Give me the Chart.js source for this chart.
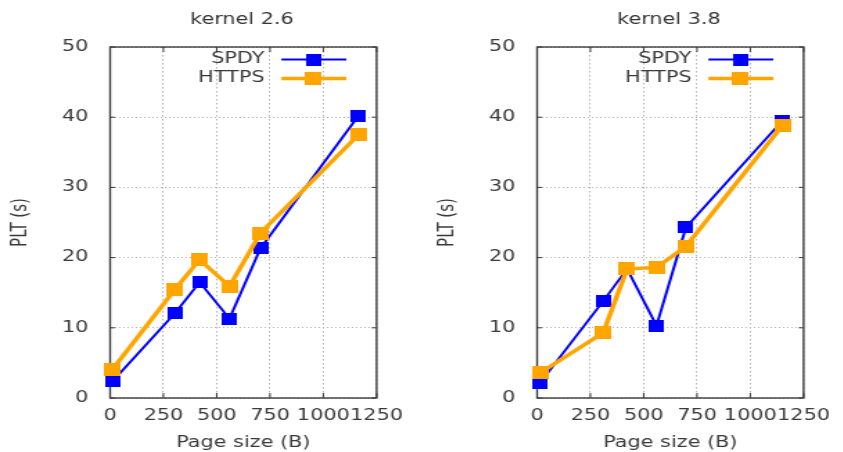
<!DOCTYPE html>
<html>
<head>
<meta charset="utf-8">
<script src="https://cdn.jsdelivr.net/npm/chart.js@4.4.0/dist/chart.umd.min.js"></script>
<style>
  html, body { margin: 0; padding: 0; background: #fff; overflow: hidden; }
  body { width: 843px; height: 452px; position: relative; }
  .panel { position: absolute; top: 0; width: 300px; height: 452px; transform-origin: 0 0; transform: scaleX(1.385); }
  #p1 { left: 0px; }
  #p2 { left: 427px; }
</style>
</head>
<body>
<div class="panel" id="p1"><canvas id="c1" width="300" height="452"></canvas></div>
<div class="panel" id="p2"><canvas id="c2" width="300" height="452"></canvas></div>
<script>
// ---- data ----
const seriesNames = ['SPDY', 'HTTPS'];
const panelTitles = ['kernel 2.6', 'kernel 3.8'];
const xTicks = [0, 250, 500, 750, 1000, 1250];
const yTicks = [0, 10, 20, 30, 40, 50];

const pageSizeLeft = [12, 305, 420, 560, 705, 1165];
const spdyLeft     = [2.4, 12.1, 16.5, 11.3, 21.3, 40.2];
const httpsLeft    = [4.1, 15.5, 19.7, 15.9, 23.5, 37.5];

const pageSizeRight = [15, 310, 422, 560, 698, 1150];
const spdyRight     = [2.2, 13.8, 18.4, 10.3, 24.3, 39.5];
const httpsRight    = [3.6, 9.3, 18.4, 18.6, 21.6, 38.8];

// ---- styling ----
const BLUE = '#0000ff';
const ORANGE = '#ffa500';
const TEXT = '#3a3a3a';
const FRAME = '#3a3a3a';

Chart.defaults.font.family = '"DejaVu Sans", Verdana, sans-serif';
Chart.defaults.font.size = 15;
Chart.defaults.color = TEXT;

function makeMarker(color, w, h) {
  const c = document.createElement('canvas');
  c.width = w; c.height = h;
  const g = c.getContext('2d');
  g.fillStyle = color;
  g.fillRect(0, 0, w, h);
  return c;
}
const markerSpdy = makeMarker(BLUE, 11, 12);
const markerHttps = makeMarker(ORANGE, 12, 13);

const framePlugin = {
  id: 'frame',
  beforeDatasetsDraw(chart) {
    const { ctx, chartArea: a, scales } = chart;
    ctx.save();
    ctx.strokeStyle = FRAME;
    ctx.lineWidth = 1.4;
    ctx.strokeRect(a.left, a.top, a.right - a.left, a.bottom - a.top);
    // inward tick marks (mirrored)
    ctx.lineWidth = 1;
    scales.x.ticks.forEach(t => {
      const px = scales.x.getPixelForValue(t.value);
      ctx.beginPath();
      ctx.moveTo(px, a.bottom); ctx.lineTo(px, a.bottom - 5);
      ctx.moveTo(px, a.top); ctx.lineTo(px, a.top + 5);
      ctx.stroke();
    });
    scales.y.ticks.forEach(t => {
      const py = scales.y.getPixelForValue(t.value);
      ctx.beginPath();
      ctx.moveTo(a.left, py); ctx.lineTo(a.left + 3.6, py);
      ctx.moveTo(a.right, py); ctx.lineTo(a.right - 3.6, py);
      ctx.stroke();
    });
    ctx.restore();
  }
};

const titleLegendPlugin = {
  id: 'titleLegend',
  afterDraw(chart) {
    const { ctx, chartArea: a } = chart;
    const opts = chart.options.plugins.titleLegend;
    ctx.save();
    ctx.font = '15px "DejaVu Sans", Verdana, sans-serif';
    ctx.fillStyle = '#333';
    ctx.textAlign = 'center';
    ctx.textBaseline = 'middle';
    ctx.fillText(opts.title, (a.left + a.right) / 2 - 1, 20);
    // legend
    const rows = [59.5, 78.5];
    chart.data.datasets.forEach((ds, i) => {
      const y = rows[i];
      ctx.fillStyle = TEXT;
      ctx.textAlign = 'right';
      ctx.fillText(ds.label, a.right - 80.9, y);
      ctx.strokeStyle = ds.borderColor;
      ctx.lineWidth = ds.borderWidth;
      ctx.beginPath();
      ctx.moveTo(a.right - 68.8, y);
      ctx.lineTo(a.right - 21.9, y);
      ctx.stroke();
      const m = ds.pointStyle;
      ctx.drawImage(m, a.right - 45.5 - m.width / 2, y - m.height / 2);
    });
    ctx.restore();
  }
};

function pts(xs, ys) { return xs.map((x, i) => ({ x: x, y: ys[i] })); }

function makeChart(id, title, xs, spdy, https) {
  return new Chart(document.getElementById(id), {
    type: 'line',
    data: {
      datasets: [
        { label: seriesNames[0], data: pts(xs, spdy), borderColor: BLUE, backgroundColor: BLUE,
          borderWidth: 2, pointStyle: markerSpdy, pointRadius: 6, tension: 0, fill: false, clip: false, order: 1 },
        { label: seriesNames[1], data: pts(xs, https), borderColor: ORANGE, backgroundColor: ORANGE,
          borderWidth: 3.5, pointStyle: markerHttps, pointRadius: 6, tension: 0, fill: false, clip: false, order: 0 }
      ]
    },
    options: {
      responsive: false,
      maintainAspectRatio: false,
      animation: false,
      events: [],
      devicePixelRatio: 1,
      layout: { padding: { top: 47, right: 20.5, left: 0, bottom: 0 } },
      plugins: {
        legend: { display: false },
        title: { display: false },
        tooltip: { enabled: false },
        titleLegend: { title: title }
      },
      scales: {
        x: {
          type: 'linear', min: 0, max: 1250,
          afterBuildTicks: s => { s.ticks = xTicks.map(v => ({ value: v })); },
          afterFit: s => { s.height = 54; },
          ticks: { autoSkip: false, maxRotation: 0, minRotation: 0, padding: 9, color: TEXT,
                   callback: v => String(v) },
          grid: { color: '#b4b4b4', lineWidth: 1, drawTicks: false, borderDash: [1.5, 2.5] },
          border: { display: false, dash: [1.5, 2.5] },
          title: { display: true, text: 'Page size (B)', color: TEXT, padding: { top: 1, bottom: 0 } }
        },
        y: {
          type: 'linear', min: 0, max: 50,
          afterBuildTicks: s => { s.ticks = yTicks.map(v => ({ value: v })); },
          afterFit: s => { s.width = 79.5; },
          ticks: { padding: 15.6, color: TEXT, callback: v => String(v) },
          grid: { color: '#b4b4b4', lineWidth: 1, drawTicks: false, borderDash: [1, 2] },
          border: { display: false, dash: [1, 2] },
          title: { display: true, text: 'PLT (s)', color: TEXT, padding: { top: 6, bottom: 0 } }
        }
      }
    },
    plugins: [framePlugin, titleLegendPlugin]
  });
}

makeChart('c1', panelTitles[0], pageSizeLeft, spdyLeft, httpsLeft);
makeChart('c2', panelTitles[1], pageSizeRight, spdyRight, httpsRight);
</script>
</body>
</html>
